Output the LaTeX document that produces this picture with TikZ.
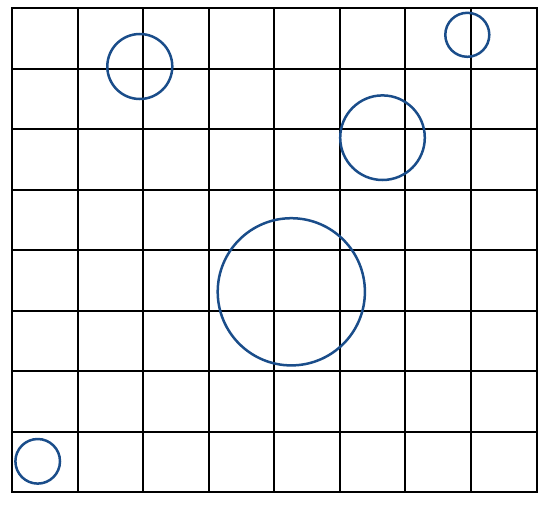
\documentclass[tikz,border=0pt]{standalone}
\definecolor{cblue}{RGB}{26,77,138}
\tikzset{gridline/.style={black,line width=2pt},
ring/.style={cblue,line width=2.5pt}}
\begin{document}
\begin{tikzpicture}[x=1pt,y=-1pt]
\useasboundingbox (0,0) rectangle (545,506);
\foreach \x in {12,78,143,209,274,340,405,471,537}
  \draw[gridline] (\x,8) -- (\x,492);
\foreach \y in {8,69,129,190,250,311,371,432,492}
  \draw[gridline] (12,\y) -- (537,\y);
\draw[gridline] (12,8) rectangle (537,492);
\draw[ring] (139.8,66.5) circle (32.5);
\draw[ring] (467.3,34.8) circle (22);
\draw[ring] (382.5,137.7) circle (42.3);
\draw[ring] (291.3,291.8) circle (73.6);
\draw[ring] (37.7,461.3) circle (22.3);
\end{tikzpicture}
\end{document}
